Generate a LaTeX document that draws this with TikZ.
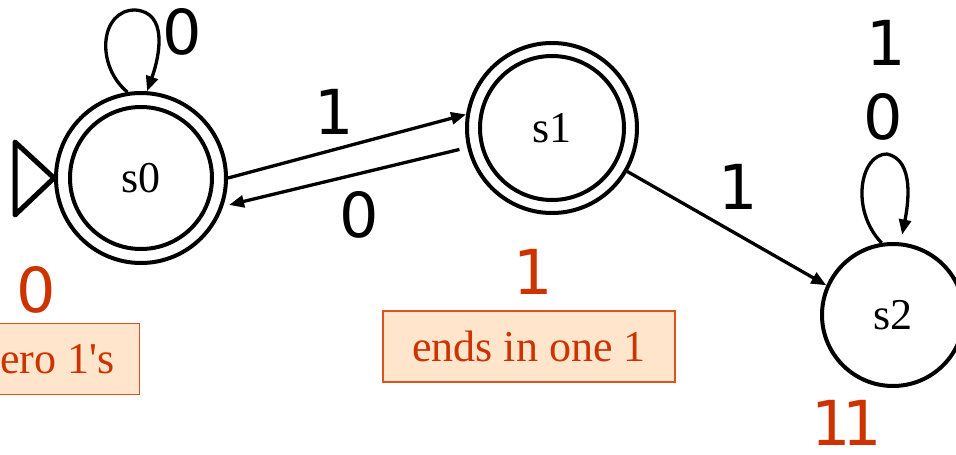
\documentclass[tikz,border=0pt]{standalone}
\usepackage{fontspec}
\setmainfont{Liberation Serif}
\newfontfamily\comicfont{DejaVu Sans}
\usetikzlibrary{arrows.meta}
\definecolor{rust}{HTML}{CC3300}
\definecolor{boxfill}{HTML}{FFE5CC}
\definecolor{boxline}{HTML}{D9541E}
\tikzset{
  statebox/.style={circle, draw, line width=4pt, inner sep=0pt, font=\fontsize{44}{44}\selectfont},
  edgeline/.style={line width=3.3pt, -{Triangle[length=15pt,width=12pt]}},
  symlabel/.style={inner sep=0pt, font=\comicfont\fontsize{62}{62}\selectfont},
  orangelabel/.style={inner sep=0pt, text=rust, font=\comicfont\fontsize{62}{62}\selectfont},
  notebox/.style={draw=boxline, fill=boxfill, line width=1.5pt, text=rust, minimum height=71pt, inner xsep=25pt, font=\fontsize{44}{44}\selectfont}
}
\begin{document}
\begin{tikzpicture}[x=1pt, y=-1pt]
\useasboundingbox (0,0) rectangle (956,455);
% states
\node[statebox, minimum size=170pt] (s0) at (141,178) {s0};
\draw[line width=4pt] (s0.center) circle[radius=71pt];
\node[statebox, minimum size=170pt] (s1) at (552,128) {s1};
\draw[line width=4pt] (s1.center) circle[radius=72pt];
\node[statebox, minimum size=142pt] (s2) at (893,315) {s2};
% start marker
\draw[line width=5pt, line join=round] (s0.180) -- ++(-39,-36) -- ++(0,73) -- cycle;
% edges
\draw[edgeline] (s0.0) -- (s1.171);
\draw[edgeline, shorten <=8pt, shorten >=6pt] (s1.193) -- (s0.-19);
\draw[edgeline] (s1.-30) -- (s2.156);
% loops
\draw[edgeline] (s0.99) .. controls (95,65) and (100,10) .. (135,10) .. controls (168,12) and (160,55) .. (s0.86);
\draw[edgeline, shorten >=8pt] (s2.99) .. controls (850,210) and (860,154) .. (887,154) .. controls (915,160) and (908,205) .. (s2.84);
% edge labels
\node[symlabel] (l0) at (182,32) {0};
\node[symlabel] (l1) at (334,112) {1};
\node[symlabel] (l2) at (359,215) {0};
\node[symlabel] (l3) at (738,187) {1};
\node[symlabel] (l4) at (883,117) {0};
\node[symlabel] (l5) at (886,43) {1};
% orange labels
\node[orangelabel] (o0) at (36,290) {0};
\node[orangelabel] (o1) at (533,272) {1};
\node[orangelabel] (o2) at (847,423) {1\kern-8pt1};
% note boxes
\node[notebox, anchor=east] (n0) at (140,359) {zero 1\textquotesingle s};
\node[notebox, minimum width=292pt] (n1) at (529,346.5) {ends in one 1};
\end{tikzpicture}
\end{document}
